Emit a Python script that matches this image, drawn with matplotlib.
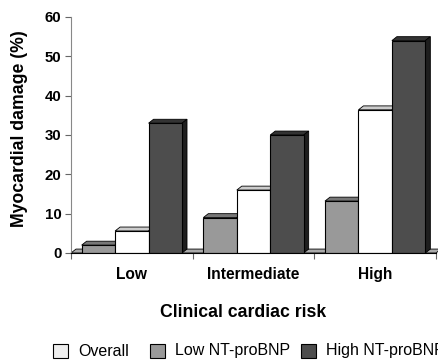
import numpy as np
import matplotlib.pyplot as plt
from matplotlib.patches import Polygon, Rectangle

plt.rcParams['font.family'] = ['Liberation Sans', 'DejaVu Sans']

# Data
groups = ["Low", "Intermediate", "High"]
series = ["Low NT-proBNP", "Overall", "High NT-proBNP"]
values = {
    "Low NT-proBNP": [2.0, 9.0, 13.2],
    "Overall": [5.6, 16.0, 36.4],
    "High NT-proBNP": [33.0, 30.0, 54.0],
}
legend_order = ["Overall", "Low NT-proBNP", "High NT-proBNP"]

# face, top, side colours per series
colors = {
    "Overall": ("#ffffff", "#cccccc", "#999999"),
    "Low NT-proBNP": ("#999999", "#777777", "#555555"),
    "High NT-proBNP": ("#4d4d4d", "#333333", "#1e1e1e"),
}
legend_fill = {"Overall": "#eeeeee", "Low NT-proBNP": "#999999", "High NT-proBNP": "#4d4d4d"}

width = 0.275
dx, dy = 0.041, 1.0   # fake 3D depth

W, H = 439, 361
fig = plt.figure(figsize=(W / 100, H / 100), dpi=100)
ax = fig.add_axes([71 / W, 108 / H, 365 / W, 236 / H])

# floor
floor = Polygon([(0, 0), (3, 0), (3 + dx, dy), (dx, dy)], closed=True,
                facecolor="#aaaaaa", edgecolor="black", lw=0.6, clip_on=False, zorder=1)
ax.add_patch(floor)

z = 2
x = np.arange(len(groups)) + 0.5
for gi in range(len(groups)):
    for si, name in enumerate(series):
        v = values[name][gi]
        x0 = x[gi] + (si - 1) * width - width / 2
        face, top, side = colors[name]
        ax.bar(x0, v, width=width, align="edge", color=face, edgecolor="black",
               lw=0.8, zorder=z + 1)
        ax.add_patch(Polygon([(x0, v), (x0 + width, v), (x0 + width + dx, v + dy), (x0 + dx, v + dy)],
                             closed=True, facecolor=top, edgecolor="black", lw=0.6,
                             clip_on=False, zorder=z))
        ax.add_patch(Polygon([(x0 + width, 0), (x0 + width + dx, dy), (x0 + width + dx, v + dy), (x0 + width, v)],
                             closed=True, facecolor=side, edgecolor="black", lw=0.6,
                             clip_on=False, zorder=z))
        z += 2

ax.set_xlim(0, 3)
ax.set_ylim(0, 60)
ax.set_yticks(range(0, 61, 10))
ax.set_xticks([0, 1, 2, 3])
ax.set_xticklabels([])
ax.set_xticks(x, minor=True)
ax.set_xticklabels(groups, minor=True, fontsize=11.2, fontweight="bold")
ax.tick_params(axis="x", which="minor", length=0, pad=10)
ax.tick_params(axis="x", which="major", length=4, direction="out", color="#666666")
ax.tick_params(axis="y", length=4, direction="out", color="#666666", pad=3)
for lab in ax.get_yticklabels():
    lab.set_fontsize(10.8)
    lab.set_fontweight("bold")

for s in ["top", "right"]:
    ax.spines[s].set_visible(False)
ax.spines["left"].set_color("#888888")
ax.spines["bottom"].set_color("black")
ax.spines["bottom"].set_zorder(100)

fig.text(20 / W, 0.645, "Myocardial damage (%)", rotation=90, ha="center", va="center",
         fontsize=12.7, fontweight="bold")
fig.text(0.553, 0.1357, "Clinical cardiac risk", ha="center", va="center",
         fontsize=12.7, fontweight="bold")

# legend row along the bottom
box_x = [53, 150, 301]
for bx, name in zip(box_x, legend_order):
    fig.add_artist(Rectangle((bx / W, (H - 358) / H), 15 / W, 14 / H,
                             transform=fig.transFigure, facecolor=legend_fill[name],
                             edgecolor="black", lw=0.8))
    fig.text((bx + 25) / W, (H - 351) / H, name, ha="left", va="center", fontsize=11.5)

fig.savefig("out.png", dpi=100)
